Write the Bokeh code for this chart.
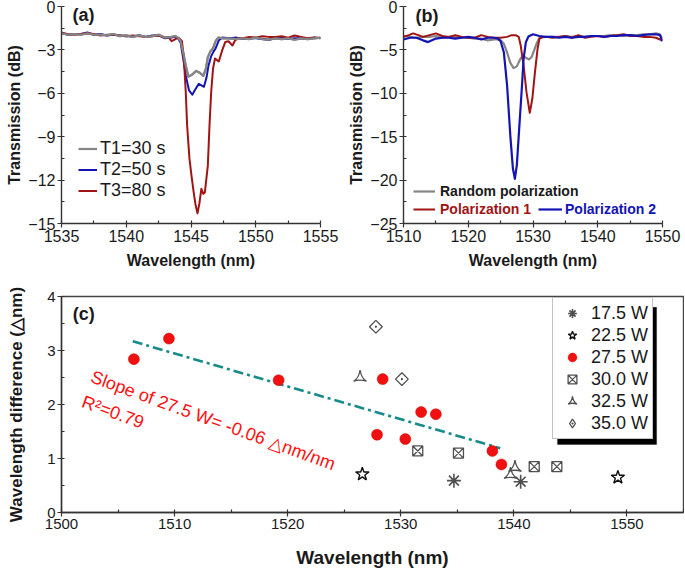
from bokeh.plotting import figure
from bokeh.layouts import column, row
from bokeh.models import (Range1d, SingleIntervalTicker, Legend, LegendItem,
                          Label, BoxAnnotation)
from bokeh.embed import file_html
from bokeh.resources import INLINE

FONT = "Liberation Sans"
GRAY = "#858585"
BLUE = "#1414b4"
RED = "#a01414"

# ---------------- panel (a) data ----------------
a_t1_x = [1535, 1535.5, 1536, 1536.5, 1537, 1537.5, 1538, 1538.5, 1539, 1539.5, 1540, 1540.5,
          1541, 1541.5, 1542, 1542.5, 1543, 1543.5,
          1543.8, 1544.0, 1544.2, 1544.4, 1544.6, 1544.8, 1545.1, 1545.4, 1545.7, 1545.95,
          1546.15, 1546.3, 1546.5, 1546.7, 1546.9, 1547.1,
          1547.5, 1548, 1548.5, 1549, 1549.5, 1550, 1550.5, 1551, 1551.5, 1552, 1552.5, 1553,
          1553.5, 1554, 1554.5, 1555]
a_t1_y = [-1.85, -1.95, -1.9, -1.95, -1.85, -1.95, -1.95, -2.0, -1.9, -2.05, -2.0, -2.1,
          -2.0, -2.1, -2.05, -1.95, -2.15, -2.1,
          -2.05, -2.15, -2.4, -3.2, -4.1, -4.85, -4.7, -4.45, -4.6, -4.8,
          -4.3, -3.5, -3.1, -2.9, -2.4, -2.15,
          -2.2, -2.2, -2.25, -2.2, -2.25, -2.15, -2.25, -2.3, -2.2, -2.25, -2.2, -2.3,
          -2.2, -2.25, -2.2, -2.15]

a_t2_x = [1535, 1535.5, 1536, 1536.5, 1537, 1537.5, 1538, 1538.5, 1539, 1539.5, 1540, 1540.5,
          1541, 1541.5, 1542, 1542.5, 1543, 1543.5,
          1543.8, 1544.0, 1544.2, 1544.4, 1544.6, 1544.85, 1545.1, 1545.35, 1545.6, 1545.8,
          1546.0, 1546.2, 1546.35, 1546.55, 1546.75, 1546.9, 1547.15, 1547.4,
          1548, 1548.5, 1549, 1549.5, 1550, 1550.5, 1551, 1551.5, 1552, 1552.5, 1553, 1553.5,
          1554, 1554.5, 1555]
a_t2_y = [-1.8, -1.95, -1.9, -1.9, -1.8, -1.95, -1.9, -2.0, -1.95, -2.0, -2.05, -2.05,
          -2.0, -2.1, -2.0, -2.0, -2.2, -2.15,
          -2.1, -2.2, -2.5, -3.6, -4.8, -5.8, -6.1, -5.7, -5.35, -5.45,
          -5.55, -4.9, -4.1, -3.45, -3.1, -2.9, -2.35, -2.15,
          -2.2, -2.15, -2.25, -2.2, -2.2, -2.25, -2.3, -2.2, -2.15, -2.25, -2.2, -2.2,
          -2.25, -2.15, -2.2]

a_t3_x = [1535, 1535.5, 1536, 1536.5, 1537, 1537.5, 1538, 1538.5, 1539, 1539.5, 1540, 1540.5,
          1541, 1541.5, 1542, 1542.5, 1543,
          1543.3, 1543.5, 1543.7, 1543.9, 1544.1, 1544.3, 1544.45, 1544.6, 1544.7, 1544.88,
          1545.04, 1545.2, 1545.35, 1545.5, 1545.65, 1545.8, 1545.95, 1546.07, 1546.3, 1546.43,
          1546.56, 1546.7, 1546.85, 1547.15, 1547.4, 1547.65, 1547.9, 1548.2, 1548.4, 1548.6,
          1549, 1549.5, 1550, 1550.5, 1551, 1551.5, 1552, 1552.5, 1553, 1553.5, 1554, 1554.5, 1555]
a_t3_y = [-1.85, -1.9, -1.95, -1.9, -1.85, -1.9, -2.0, -1.95, -1.95, -2.0, -2.05, -2.0,
          -2.05, -2.1, -2.05, -2.0, -2.15,
          -2.15, -2.4, -2.3, -2.2, -2.2, -2.4, -3.6, -6.0, -8.2, -10.5,
          -11.7, -12.8, -13.7, -14.3, -13.6, -12.6, -12.95, -12.85, -11.0, -8.2,
          -5.9, -4.3, -3.6, -3.8, -3.05, -2.45, -2.4, -2.7, -2.35, -2.2,
          -2.2, -2.1, -2.15, -2.05, -2.1, -2.1, -2.05, -2.15, -2.0, -2.1, -2.2, -2.15, -2.2]
a_labels = ["T1=30 s", "T2=50 s", "T3=80 s"]

# ---------------- panel (b) data ----------------
b_rand_x = [1510, 1511, 1512, 1513, 1514, 1515, 1516, 1517, 1518, 1519, 1520, 1521, 1522, 1523,
            1524, 1524.5, 1525, 1525.5, 1526, 1526.5, 1527, 1527.5, 1528,
            1528.4, 1528.9, 1529.4, 1529.8, 1530.2, 1530.6, 1531,
            1532, 1533, 1534, 1535, 1536, 1537, 1538, 1539, 1540, 1541, 1542, 1543, 1544, 1545,
            1546, 1547, 1548, 1549, 1549.6, 1550]
b_rand_y = [-3.4, -3.5, -3.6, -3.5, -3.5, -3.4, -3.6, -3.5, -3.5, -3.6, -3.6, -3.7, -3.7, -3.9,
            -3.8, -3.8, -3.9, -4.3, -5.3, -6.5, -7.1, -6.9, -6.1,
            -5.7, -5.9, -6.1, -5.8, -5.0, -4.2, -3.6,
            -3.5, -3.5, -3.5, -3.4, -3.5, -3.4, -3.5, -3.4, -3.4, -3.4, -3.3, -3.3, -3.4, -3.3,
            -3.3, -3.2, -3.2, -3.1, -3.2, -3.7]

b_p1_x = [1510, 1510.8, 1511.5, 1512.3, 1513, 1514, 1515, 1516, 1517, 1518, 1519, 1520, 1521,
          1522, 1523, 1524, 1525, 1526, 1526.7, 1527.3, 1527.8, 1528.1, 1528.55, 1529.0, 1529.5,
          1529.9, 1530.3, 1530.7, 1531.0, 1531.5, 1532, 1533, 1534, 1535, 1536, 1537, 1538,
          1539, 1540, 1541, 1542, 1543, 1544, 1545, 1546, 1547, 1548, 1549, 1549.6, 1550]
b_p1_y = [-3.5, -3.3, -3.1, -3.3, -3.5, -3.3, -3.1, -3.4, -3.5, -3.3, -3.5, -3.6, -3.6,
          -3.3, -3.5, -3.6, -3.6, -3.5, -3.3, -3.3, -3.5, -4.5, -6.8, -9.9, -12.25,
          -10.6, -7.6, -4.9, -3.7, -3.5, -3.5, -3.6, -3.5, -3.4, -3.6, -3.3, -3.6,
          -3.5, -3.4, -3.5, -3.4, -3.3, -3.2, -3.4, -3.4, -3.5, -3.5, -3.6, -3.8, -3.9]

b_p2_x = [1510, 1511, 1512, 1513, 1513.8, 1515, 1516, 1517, 1518, 1519, 1520, 1521, 1522, 1523,
          1524, 1524.6, 1525.0, 1525.5, 1526.0, 1526.5, 1526.9, 1527.2, 1527.5, 1527.9, 1528.3,
          1528.55, 1528.9, 1529.3, 1530, 1531, 1532, 1533, 1534, 1535, 1536, 1537, 1538, 1539,
          1540, 1541, 1542, 1543, 1544, 1545, 1546, 1547, 1548, 1549, 1549.6, 1550]
b_p2_y = [-3.8, -3.6, -3.6, -3.9, -4.1, -3.7, -3.6, -3.6, -3.7, -3.6, -3.5, -3.6, -3.8, -3.6,
          -3.6, -3.7, -4.0, -5.3, -9.1, -14.9, -18.7, -19.85, -18.3, -13.7, -9.1,
          -6.0, -4.1, -3.45, -3.2, -3.4, -3.5, -3.5, -3.6, -3.5, -3.6, -3.5, -3.5, -3.4,
          -3.4, -3.5, -3.4, -3.4, -3.3, -3.3, -3.4, -3.3, -3.2, -3.2, -3.3, -4.0]
b_labels = ["Random polarization", "Polarization 1", "Polarization 2"]

# ---------------- panel (c) data ----------------
c17_x = [1534.7, 1540.6]
c17_y = [0.59, 0.57]
c22_x = [1526.6, 1549.2]
c22_y = [0.71, 0.65]
c27_x = [1506.4, 1509.5, 1519.2, 1528.4, 1531.8, 1533.1, 1527.9, 1530.4, 1538.1, 1538.9]
c27_y = [2.84, 3.22, 2.45, 2.47, 1.86, 1.82, 1.44, 1.36, 1.14, 0.89]
c30_x = [1531.5, 1535.1, 1541.8, 1543.8]
c30_y = [1.14, 1.10, 0.85, 0.85]
c32_x = [1526.4, 1540.1, 1539.7]
c32_y = [2.50, 0.83, 0.70]
c35_x = [1527.8, 1530.1]
c35_y = [3.44, 2.47]
fit_x = [1506.3, 1538.8]
fit_y = [3.17, 1.19]
c_labels = ["17.5 W", "22.5 W", "27.5 W", "30.0 W", "32.5 W", "35.0 W"]


def style(p, xint, yint, tick_px, lab_px, xlabel, ylabel, xstand, ystand):
    p.grid.visible = False
    p.xaxis.ticker = SingleIntervalTicker(interval=xint, num_minor_ticks=2)
    p.yaxis.ticker = SingleIntervalTicker(interval=yint, num_minor_ticks=2)
    p.xaxis.axis_label = xlabel
    p.yaxis.axis_label = ylabel
    for ax in (p.xaxis, p.yaxis):
        ax.axis_line_color = "#333333"
        ax.axis_line_width = 1.4
        ax.major_tick_line_color = "#333333"
        ax.minor_tick_line_color = "#333333"
        ax.major_tick_line_width = 1.2
        ax.minor_tick_line_width = 1.2
        ax.major_tick_in = 0
        ax.major_tick_out = 4
        ax.minor_tick_in = 3
        ax.minor_tick_out = 0
        ax.major_label_text_font = FONT
        ax.major_label_text_font_size = tick_px
        ax.major_label_text_color = "#1a1a1a"
        ax.axis_label_text_font = FONT
        ax.axis_label_text_font_size = lab_px
        ax.axis_label_text_font_style = "bold"
        ax.axis_label_text_color = "#1a1a1a"
        ax.major_label_standoff = 2
    p.xaxis.axis_label_standoff = xstand
    p.yaxis.axis_label_standoff = ystand


# ---------------- figure (a) ----------------
pa = figure(width=342, height=282, x_range=Range1d(1535, 1555), y_range=Range1d(-15, 0),
            output_backend="svg", toolbar_location=None,
            min_border_left=61, min_border_right=22, min_border_top=6, min_border_bottom=59)
pa.outline_line_color = None
style(pa, 5, 3, "16px", "16px", "Wavelength (nm)", "Transmission (dB)", 7, 2)
ra1 = pa.line(a_t1_x, a_t1_y, line_color=GRAY, line_width=2.2, line_join="round")
ra2 = pa.line(a_t2_x, a_t2_y, line_color=BLUE, line_width=2.0, line_join="round")
ra3 = pa.line(a_t3_x, a_t3_y, line_color=RED, line_width=2.0, line_join="round")
ra1b = pa.line(a_t1_x, a_t1_y, line_color=GRAY, line_width=2.2, line_join="round")
leg_a = Legend(items=[LegendItem(label=a_labels[0], renderers=[ra1]),
                      LegendItem(label=a_labels[1], renderers=[ra2]),
                      LegendItem(label=a_labels[2], renderers=[ra3])],
               location=(17, 22), padding=0, margin=0, spacing=0,
               label_height=21, glyph_height=21, glyph_width=19, label_standoff=3,
               background_fill_alpha=0, border_line_color=None,
               label_text_font=FONT, label_text_font_size="18px", label_text_color="#1a1a1a")
pa.add_layout(leg_a)
pa.add_layout(Label(x=1535.85, y=-1.3, text="(a)", text_font=FONT, text_font_size="18px",
                    text_font_style="bold", text_color="#1a1a1a"))

# ---------------- figure (b) ----------------
pb = figure(width=342, height=282, x_range=Range1d(1510, 1550), y_range=Range1d(-25, 0),
            output_backend="svg", toolbar_location=None,
            min_border_left=61, min_border_right=22, min_border_top=6, min_border_bottom=59)
pb.outline_line_color = None
style(pb, 10, 5, "16px", "16px", "Wavelength (nm)", "Transmission (dB)", 7, 2)
rb1 = pb.line(b_rand_x, b_rand_y, line_color=GRAY, line_width=2.2, line_join="round")
rb2 = pb.line(b_p1_x, b_p1_y, line_color=RED, line_width=2.0, line_join="round")
rb3 = pb.line(b_p2_x, b_p2_y, line_color=BLUE, line_width=2.2, line_join="round")


def small_legend(r, label, color, loc, gw, st):
    return Legend(items=[LegendItem(label=label, renderers=[r])], location=loc,
                  padding=0, margin=0, spacing=0, label_height=18, glyph_height=18,
                  glyph_width=gw, label_standoff=st, background_fill_alpha=0,
                  border_line_color=None, label_text_font=FONT, label_text_font_size="14px",
                  label_text_font_style="bold", label_text_color=color)


pb.add_layout(small_legend(rb1, b_labels[0], "#1a1a1a", (10, 23), 22, 5))
pb.add_layout(small_legend(rb2, b_labels[1], RED, (10, 5), 22, 5))
pb.add_layout(small_legend(rb3, b_labels[2], BLUE, (135, 5), 24, 3))
pb.add_layout(Label(x=1511.85, y=-2.2, text="(b)", text_font=FONT, text_font_size="18px",
                    text_font_style="bold", text_color="#1a1a1a"))

# ---------------- figure (c) ----------------
pc = figure(width=684, height=290, x_range=Range1d(1500, 1555), y_range=Range1d(0, 4),
            output_backend="svg", toolbar_location=None,
            min_border_left=61, min_border_right=1, min_border_top=14, min_border_bottom=60)
pc.outline_line_color = "#444444"
pc.outline_line_width = 1.4
style(pc, 10, 1, "15px", "17px", "Wavelength (nm)", "Wavelength difference (\u25b3nm)", 15, 18)
pc.xaxis.axis_label_text_font_size = "19px"

pc.line(fit_x, fit_y, line_color="#178a8a", line_width=2.6, line_dash="10 4 3 4")
MK = "#505050"
s17 = pc.scatter(c17_x, c17_y, marker="asterisk", size=14, line_color=MK, line_width=1.6)
s22 = pc.scatter(c22_x, c22_y, marker="star", size=14, line_color="#111111", fill_color="white",
                 line_width=1.4)
s27 = pc.scatter(c27_x, c27_y, marker="circle", size=11, fill_color="#f01010",
                 line_color="#d00000", line_width=0.5)
s30 = pc.scatter(c30_x, c30_y, marker="square_x", size=10, line_color=MK, fill_color=None,
                 line_width=1.3)
s32 = pc.scatter(c32_x, c32_y, marker="triangle_pin", size=13, line_color=MK, fill_color=None,
                 line_width=1.3)
s35 = pc.scatter(c35_x, c35_y, marker="square_dot", size=9, angle=45, angle_units="deg",
                 line_color=MK, fill_color=None, line_width=1.3)
# hidden twin used only for the legend symbol (legend glyphs ignore marker angle)
s35_leg = pc.scatter(c35_x, c35_y, marker="diamond_dot", size=12, line_color=MK,
                     fill_color=None, line_width=1.3, visible=False)

pc.add_layout(BoxAnnotation(left=1543.86, right=1552.62, top=3.80, bottom=1.26,
                            fill_color="black", fill_alpha=1.0, line_color="black"))
leg_c = Legend(items=[LegendItem(label=c_labels[0], renderers=[s17]),
                      LegendItem(label=c_labels[1], renderers=[s22]),
                      LegendItem(label=c_labels[2], renderers=[s27]),
                      LegendItem(label=c_labels[3], renderers=[s30]),
                      LegendItem(label=c_labels[4], renderers=[s32]),
                      LegendItem(label=c_labels[5], renderers=[s35_leg])],
               location=(491, 73), padding=4, margin=0, spacing=0,
               label_height=22, glyph_height=22, glyph_width=30, label_standoff=4,
               background_fill_color="white", background_fill_alpha=1.0,
               inactive_fill_alpha=0.0,
               border_line_color="#888888", border_line_width=1,
               label_text_font=FONT, label_text_font_size="18px", label_text_color="#1a1a1a")
pc.add_layout(leg_c)

pc.add_layout(Label(x=1501.0, y=3.5, text="(c)", text_font=FONT, text_font_size="18px",
                    text_font_style="bold", text_color="#1a1a1a"))
pc.add_layout(Label(x=1502.35, y=2.35, text="Slope of 27.5 W= -0.06 \u25b3nm/nm",
                    angle=-20, angle_units="deg", text_font=FONT, text_font_size="18px",
                    text_color="#ff1010"))
pc.add_layout(Label(x=1501.57, y=1.89, text="R\u00b2=0.79",
                    angle=-20, angle_units="deg", text_font=FONT, text_font_size="18px",
                    text_color="#ff1010"))

layout = column(row(pa, pb), pc)
open("out.html", "w").write(file_html(layout, INLINE))
